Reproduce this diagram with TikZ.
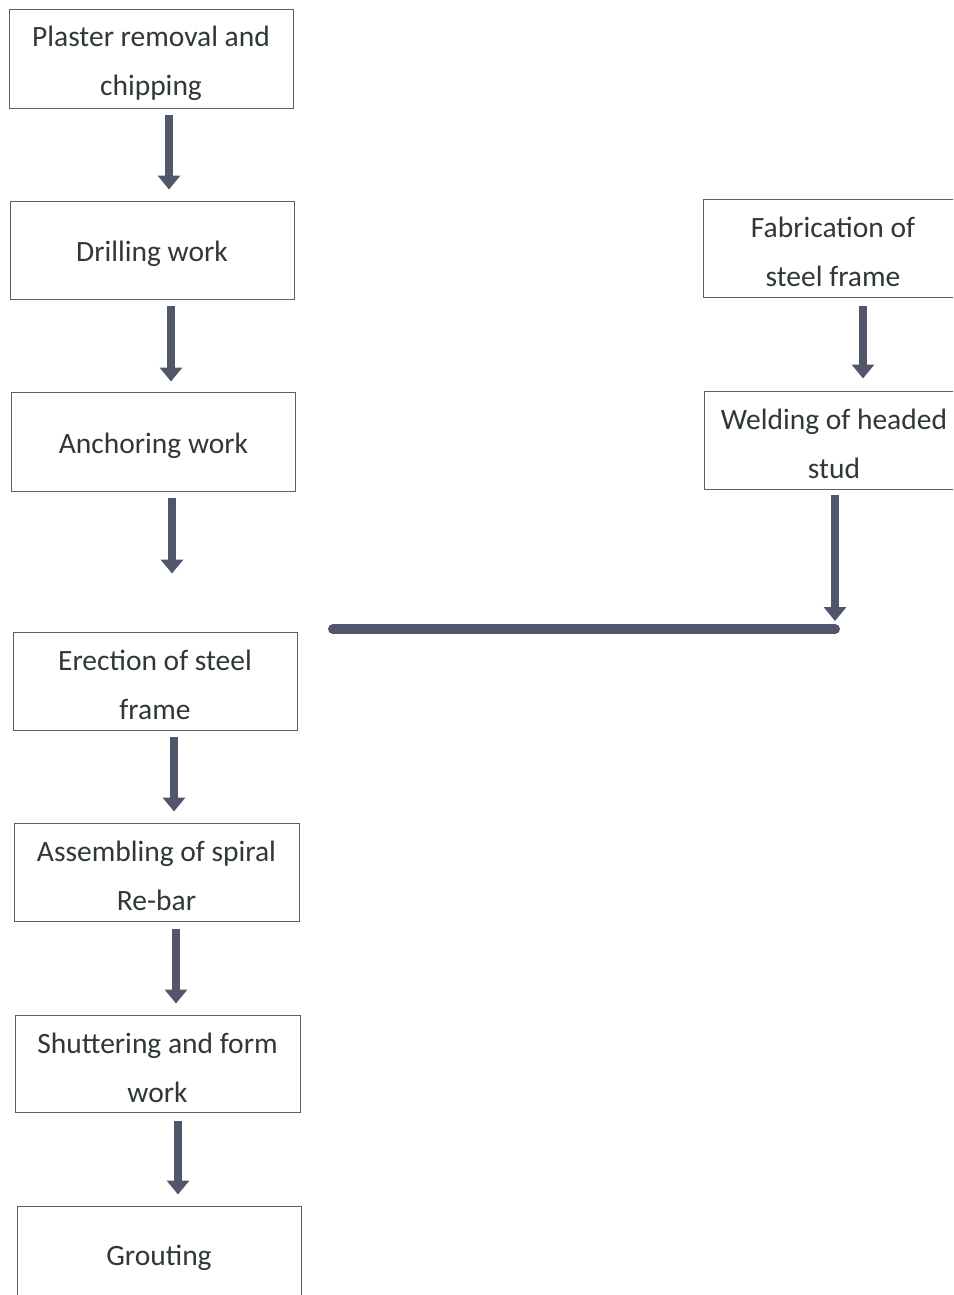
\documentclass[tikz,border=0pt]{standalone}
\usepackage{fontspec}
\setmainfont{Carlito}
\usetikzlibrary{arrows.meta}
\definecolor{arrowcol}{RGB}{82,86,106}
\definecolor{txtcol}{RGB}{48,56,52}
\definecolor{boxcol}{RGB}{95,95,95}
\tikzset{
  stepbox/.style={draw=boxcol, line width=1pt, fill=white,
    minimum height=98pt, inner sep=0pt},
  steptext/.style={text=txtcol, align=center, inner sep=0pt, yshift=-4pt,
    font=\fontsize{29.5}{49}\selectfont},
  leftbox/.style={stepbox, minimum width=284pt, label={[steptext]center:#1}},
  rightbox/.style={stepbox, minimum width=260pt, label={[steptext]center:#1}},
  flowarrow/.style={draw=arrowcol, line width=8pt,
    -{Triangle[width=22pt,length=14pt]}},
  joinline/.style={draw=arrowcol, line width=10pt, line cap=round}
}
\begin{document}
\begin{tikzpicture}[x=1pt,y=-1pt]
\useasboundingbox (0,0) rectangle (953,1295);
\clip (0,0) rectangle (953,1295);
\fill[white] (0,0) rectangle (953,1295);

\node[leftbox={Plaster removal and\\chipping}, minimum height=99pt] (n1) at (151,59.5) {};
\node[leftbox={Drilling work}] (n2) at (152,250) {};
\node[leftbox={Anchoring work}, minimum height=99pt] (n3) at (153.5,441.5) {};
\node[leftbox={Erection of steel\\frame}] (n4) at (155,681) {};
\node[leftbox={Assembling of spiral\\Re-bar}, minimum width=285pt] (n5) at (156.5,872) {};
\node[leftbox={Shuttering and form\\work}, minimum width=285pt, minimum height=97pt] (n6) at (157.5,1063.5) {};
\node[leftbox={Grouting}, minimum height=96pt] (n7) at (159,1254) {};

\node[rightbox={Fabrication of\\steel frame}] (r1) at (833,248) {};
\node[rightbox={Welding of headed\\stud}] (r2) at (834,440) {};

\coordinate (j) at (835,629);
\coordinate (jl) at (333,629);

\draw[flowarrow, shorten <=5.5pt, shorten >=11pt] ([xshift=18pt]n1.south) -- ([xshift=18pt]n1.south |- n2.north);
\draw[flowarrow, shorten <=6pt, shorten >=10pt] ([xshift=19pt]n2.south) -- ([xshift=19pt]n2.south |- n3.north);
\draw[flowarrow, shorten <=6pt, shorten >=58pt] ([xshift=18.5pt]n3.south) -- ([xshift=18.5pt]n3.south |- n4.north);
\draw[flowarrow, shorten <=6pt, shorten >=11pt] ([xshift=19pt]n4.south) -- ([xshift=19pt]n4.south |- n5.north);
\draw[flowarrow, shorten <=7pt, shorten >=11pt] ([xshift=19.5pt]n5.south) -- ([xshift=19.5pt]n5.south |- n6.north);
\draw[flowarrow, shorten <=8pt, shorten >=11pt] ([xshift=20.5pt]n6.south) -- ([xshift=20.5pt]n6.south |- n7.north);

\draw[flowarrow, shorten <=8pt, shorten >=12pt] ([xshift=30pt]r1.south) -- ([xshift=30pt]r1.south |- r2.north);
\draw[joinline] (j) -- (jl);
\draw[flowarrow, shorten <=5pt, shorten >=8pt] ([xshift=1pt]r2.south) -- (j);
\end{tikzpicture}
\end{document}
